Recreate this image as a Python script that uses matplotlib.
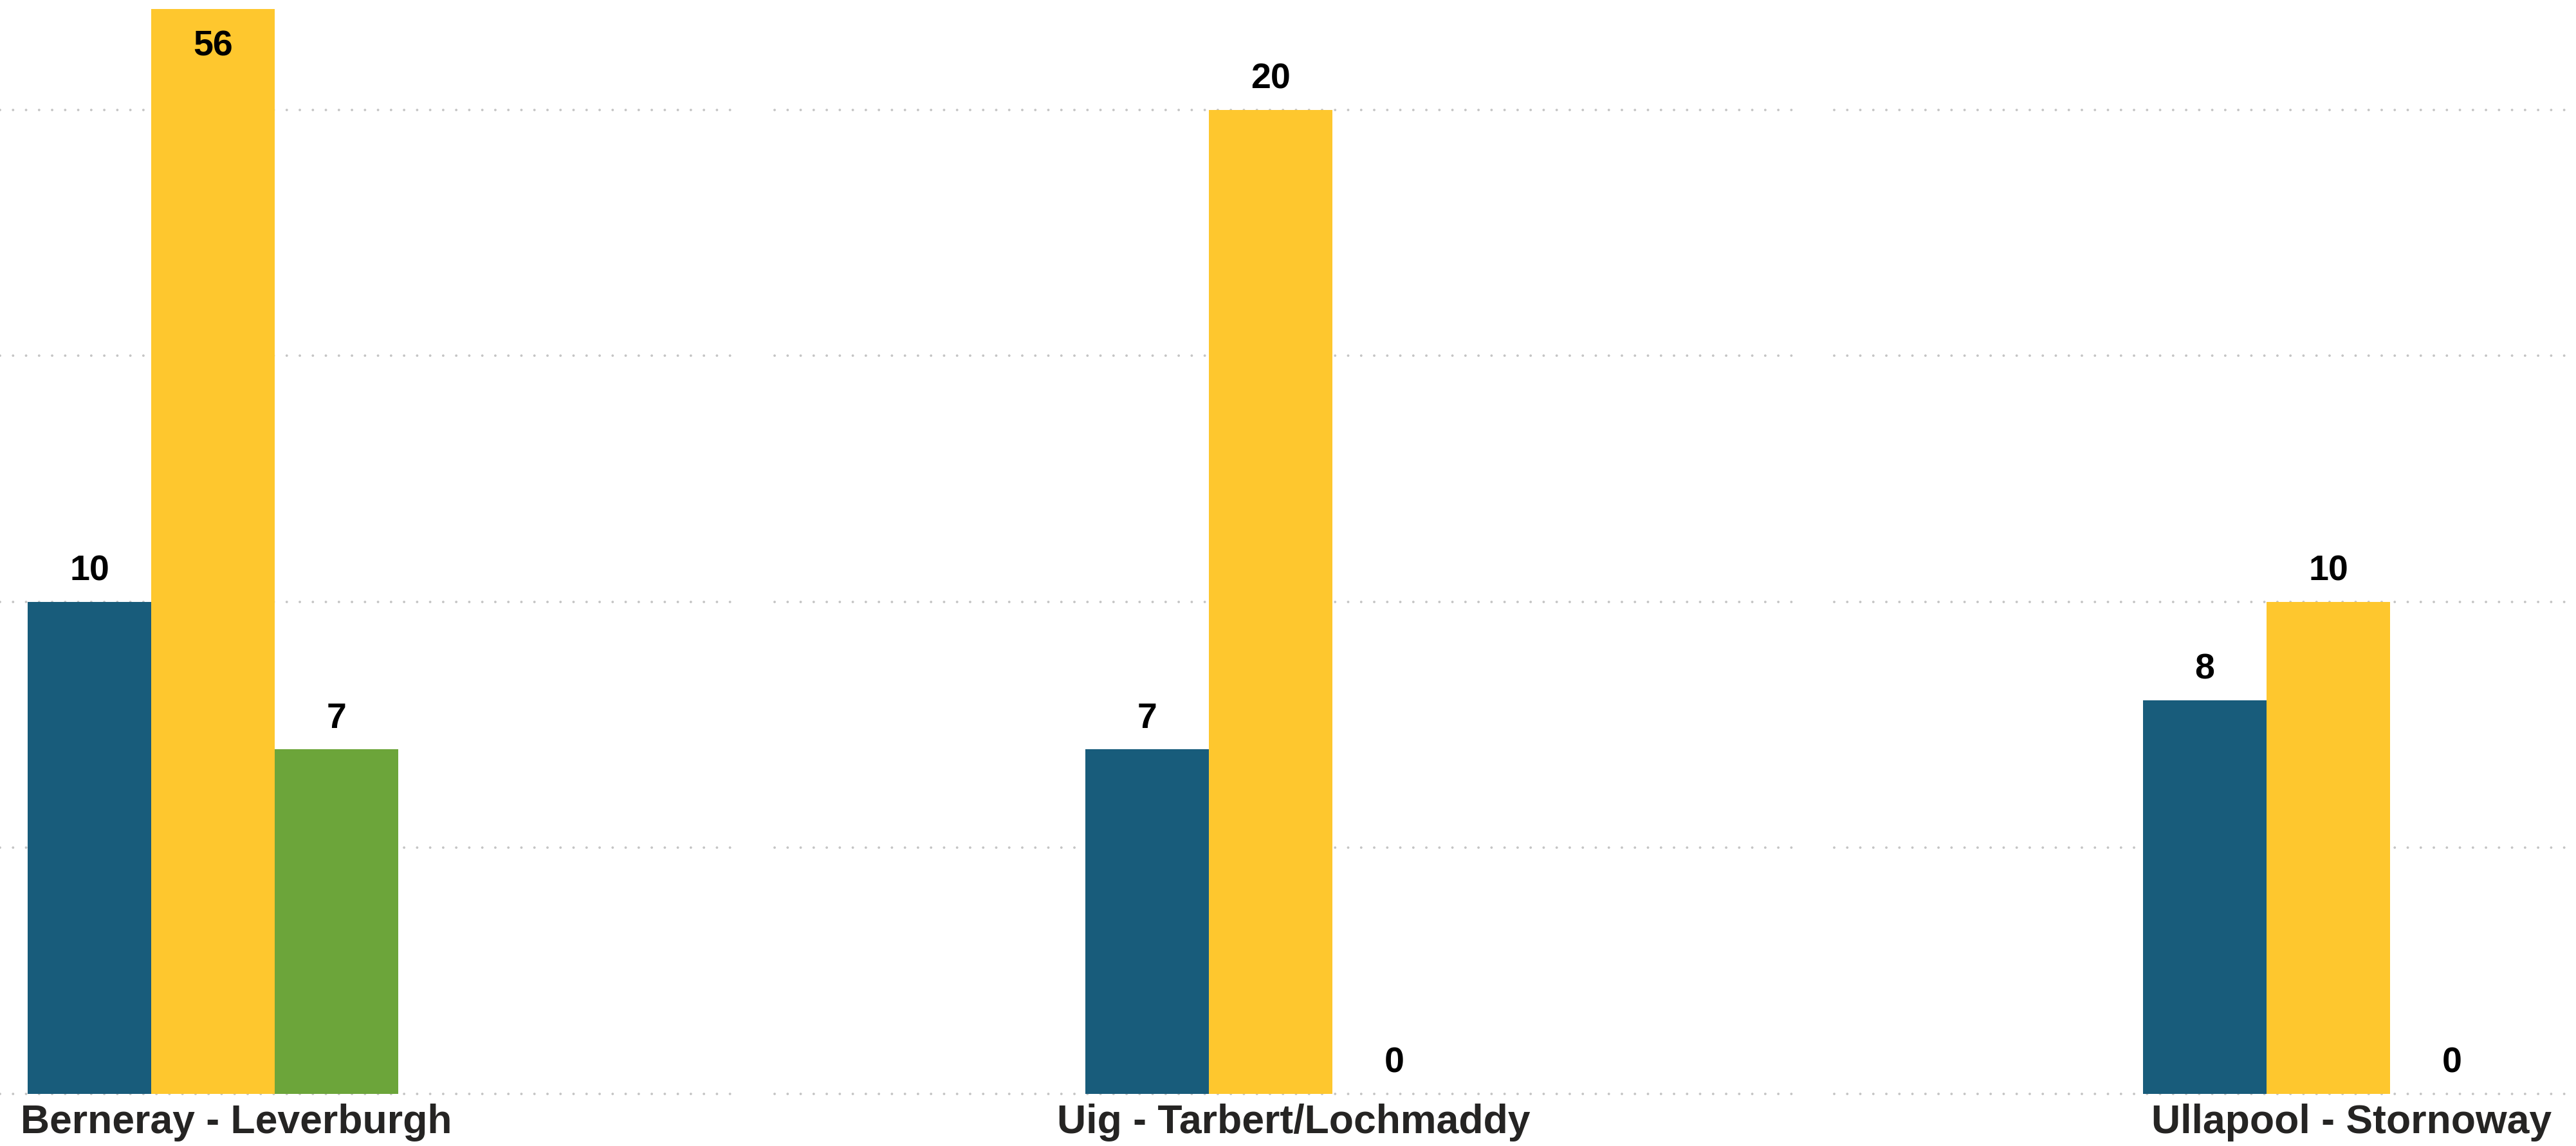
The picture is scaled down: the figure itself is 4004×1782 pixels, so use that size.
import numpy as np
import matplotlib
matplotlib.use("Agg")
import matplotlib.pyplot as plt
import matplotlib.transforms as mtransforms

plt.rcParams['font.family'] = ['Liberation Sans', 'DejaVu Sans']

# Route categories and the three series per route
routes = ["Berneray - Leverburgh", "Uig - Tarbert/Lochmaddy", "Ullapool - Stornoway"]
teal_values = [10, 7, 8]
yellow_values = [56, 20, 10]
green_values = [7, 0, 0]

gridline_values = [0, 5, 10, 15, 20]

series = [teal_values, yellow_values, green_values]
colors = ["#185C7B", "#FEC72E", "#6CA53A"]

y_max = 22.05
bar_w = 192 / 1644

fig = plt.figure(figsize=(40.05, 17.82), dpi=100)
ax = fig.add_axes([0, 81 / 1782, 1, (1782 - 81 - 14) / 1782])
ax.set_xlim(-331 / 1644, (4005 - 331) / 1644)
ax.set_ylim(0, y_max)
ax.axis("off")

# dotted horizontal gridlines, broken between the route panels
segments = [(0.0, 0.2854), (0.3006, 0.6961), (0.7119, 1.0)]
trans = mtransforms.blended_transform_factory(ax.transAxes, ax.transData)
for gv in gridline_values:
    for x0, x1 in segments:
        ax.plot([x0, x1], [gv, gv], transform=trans, color="#C4C4C4",
                lw=2.8, linestyle=(0, (0.01, 5.2)), dash_capstyle="round",
                zorder=0.5, clip_on=False)

x = np.arange(len(routes))
for j, (vals, col) in enumerate(zip(series, colors)):
    xs = x + (j - 1) * bar_w
    ax.bar(xs, vals, width=bar_w, color=col, zorder=2)
    for xi, v in zip(xs, vals):
        if v > y_max:
            ax.annotate(str(v), (xi, y_max), xytext=(0, -52.5),
                        textcoords="offset points", ha="center", va="baseline",
                        fontsize=40, fontweight="bold", color="black", zorder=3)
        else:
            ax.annotate(str(v), (xi, v), xytext=(0, 24),
                        textcoords="offset points", ha="center", va="baseline",
                        fontsize=40, fontweight="bold", color="black", zorder=3)

for xi, name in zip(x, routes):
    ax.annotate(name, (xi + 0.022, 0), xytext=(0, -44),
                textcoords="offset points", ha="center", va="baseline",
                fontsize=45, fontweight="bold", color="#252423",
                annotation_clip=False)

fig.savefig("out.png", dpi=100)
